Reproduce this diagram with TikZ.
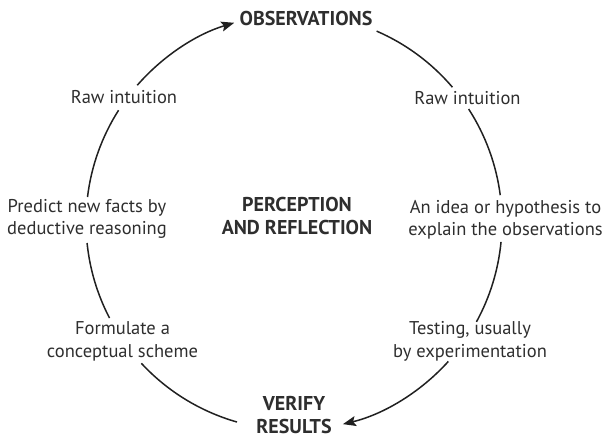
\documentclass[tikz,border=0pt]{standalone}
\usepackage{fontspec}
\setmainfont{PT Sans}
\usetikzlibrary{arrows.meta,calc}
\definecolor{txt}{HTML}{2E2E2E}
\definecolor{ln}{HTML}{202020}
\begin{document}
\begin{tikzpicture}[x=1pt,y=1pt,
  lab/.style={font=\fontsize{18.5}{22.5}\selectfont, text=txt, align=center, inner sep=0pt},
  head/.style={font=\bfseries\fontsize{20}{23.5}\selectfont, text=txt, align=center, inner sep=0pt},
  circ/.style={draw=ln, line width=1.5pt},
  tip/.style={-{Stealth[length=13pt,width=10pt,inset=2.5pt]}}]
\useasboundingbox (0,0) rectangle (606,441);
\coordinate (C) at (294,219);
\def\R{208}
% labels
\node[head] (obs) at (306,422) {OBSERVATIONS};
\node[head] (ver) at (294,26) {VERIFY\\RESULTS};
\node[head] (per) at (297,225) {PERCEPTION\\AND REFLECTION};
\node[lab] (rawl) at (124,343.5) {Raw intuition};
\node[lab] (rawr) at (467.5,343) {Raw intuition};
\node[lab] (pred) at (87,222) {Predict new facts by\\deductive reasoning};
\node[lab] (idea) at (505.5,221) {An idea or hypothesis to\\explain the observations};
\node[lab] (form) at (122.5,99.5) {Formulate a\\conceptual scheme};
\node[lab] (test) at (470,99.5) {Testing, usually\\by experimentation};
% arc end points
\foreach \n/\a in {l1/254.1, l2/207.5, l3/173.1, l4/138.9, r1/66.6, r2/32.9, r3/-5.5, r4/-42.1}
  \coordinate (\n) at ($(C)+(\a:\R)$);
% left half: from VERIFY up to OBSERVATIONS
\draw[circ] (l1) arc[start angle=254.1, end angle=222.8, radius=\R];
\draw[circ] (l2) arc[start angle=207.5, end angle=185.8, radius=\R];
\draw[circ] (l3) arc[start angle=173.1, end angle=147.5, radius=\R];
\draw[circ,tip] (l4) arc[start angle=138.9, end angle=106.7, radius=\R];
% right half: from OBSERVATIONS down to VERIFY
\draw[circ] (r1) arc[start angle=66.6, end angle=40.4, radius=\R];
\draw[circ] (r2) arc[start angle=32.9, end angle=7.4, radius=\R];
\draw[circ] (r3) arc[start angle=-5.5, end angle=-28.7, radius=\R];
\draw[circ,tip] (r4) arc[start angle=-42.1, end angle=-76.4, radius=\R];
\end{tikzpicture}
\end{document}
